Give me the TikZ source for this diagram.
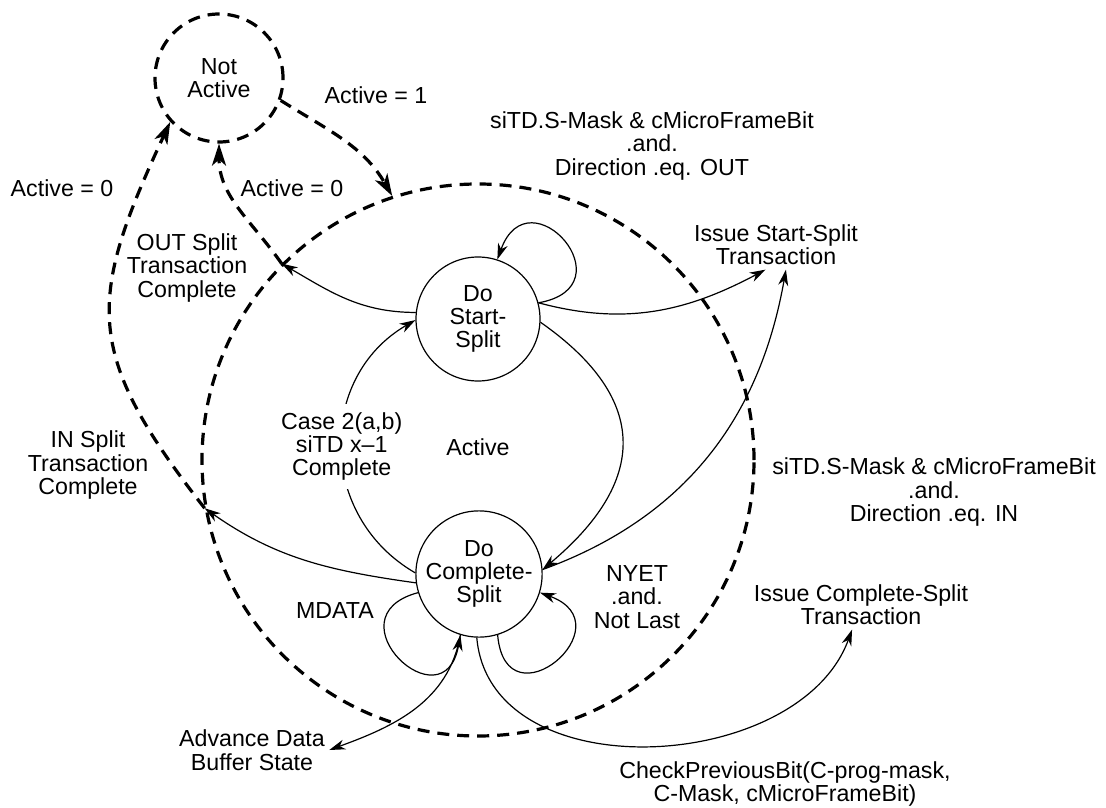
\documentclass[tikz,border=0pt]{standalone}
\usepackage{fontspec}
\setmainfont{Liberation Sans}
\usetikzlibrary{arrows.meta, positioning, shapes.geometric}

\begin{document}
\begin{tikzpicture}[x=0.5pt, y=0.5pt,
    font=\fontsize{11.6}{11.7}\selectfont,
    state/.style={circle, draw, line width=0.6pt, align=center, inner sep=0pt},
    dstate/.style={circle, draw, line width=1.6pt, dash pattern=on 6pt off 4pt, align=center, inner sep=0pt},
    txt/.style={align=center, inner sep=2pt},
    arr/.style={-{Stealth[length=8pt, width=5pt, inset=2.5pt]}, line width=0.6pt},
    darr/.style={-{Stealth[length=11pt, width=7pt, inset=3pt]}, line width=1.6pt, dash pattern=on 6pt off 4pt}]
    \useasboundingbox (0,0) rectangle (1106,-807);

    % 状态
    \node[dstate, minimum size=276pt] (act) at (478,-460) {};
    \node[txt] (actl) at (478,-447) {Active};
    \node[dstate, minimum size=64pt] (na) at (219,-78) {Not\\Active};
    \node[state, minimum size=62pt] (ss) at (478,-319) {Do\\Start-\\Split};
    \node[state, minimum size=63pt] (cs) at (479,-574) {Do\\Complete-\\Split};

    % 文字
    \node[txt] (a1) at (376,-95) {Active = 1};
    \node[txt] (a0l) at (62,-188) {Active = 0};
    \node[txt] (a0m) at (292,-188) {Active = 0};
    \node[txt] (outc) at (187,-268) {OUT Split\\Transaction\\Complete};
    \node[txt] (inc) at (88,-465) {IN Split\\Transaction\\Complete};
    \node[txt] (condout) at (652,-146) {siTD.S-Mask \& cMicroFrameBit\\.and.\\Direction .eq. OUT};
    \node[txt] (iss) at (776,-245) {Issue Start-Split\\Transaction};
    \node[txt] (condin) at (934,-492) {siTD.S-Mask \& cMicroFrameBit\\.and.\\Direction .eq. IN};
    \node[txt] (nyet) at (637,-597) {NYET\\.and.\\Not Last};
    \node[txt] (mdata) at (335,-611) {MDATA};
    \node[txt] (icsp) at (861,-605) {Issue Complete-Split\\Transaction};
    \node[txt] (adv) at (252,-750) {Advance Data\\Buffer State};
    \node[txt] (chk) at (785,-784) {CheckPreviousBit(C-prog-mask,\\C-Mask, cMicroFrameBit)};

    % Not Active <-> Active
    \draw[darr] (na.-20) to[out=-32, in=120] (act.108.6);
    \draw[darr] (act.135.6) to[out=125, in=-90] (na.south);
    \draw[darr] (act.190.5) to[out=128, in=-115, looseness=1.3] (na.222);

    % 内部转换
    \draw[arr] (ss.174) to[out=180, in=-30] (act.135.6);
    \draw[arr] (cs.188) to[out=172, in=-35] (act.190.5);
    \draw[arr] (cs.179) to[out=150, in=-150, looseness=1.15]
        node[txt, fill=white, inner ysep=4pt] (casel) {Case 2(a,b)\\siTD x--1\\Complete} (ss.181);
    \draw[arr] (ss.-3) to[out=-35, in=40, looseness=1.4] (cs.4);
    \draw[arr] (ss.15) to[out=10, in=70, looseness=4] (ss.72);
    \draw[arr] (ss.15) to[out=-15, in=208] (iss.-113);
    \draw[arr] (cs.4) to[out=20, in=-100] (iss.-68);

    % Complete-Split 下方
    \draw[arr] (cs.197) to[out=195, in=-100, looseness=4] (cs.-107);
    \draw[arr] (cs.-73) to[out=-85, in=-20, looseness=4] (cs.-17);
    \draw[arr] (cs.-107) to[out=-100, in=20] (adv.east);
    \draw[arr] (cs.-92) to[out=-85, in=-110, looseness=1.05] (icsp.-110);
\end{tikzpicture}
\end{document}
